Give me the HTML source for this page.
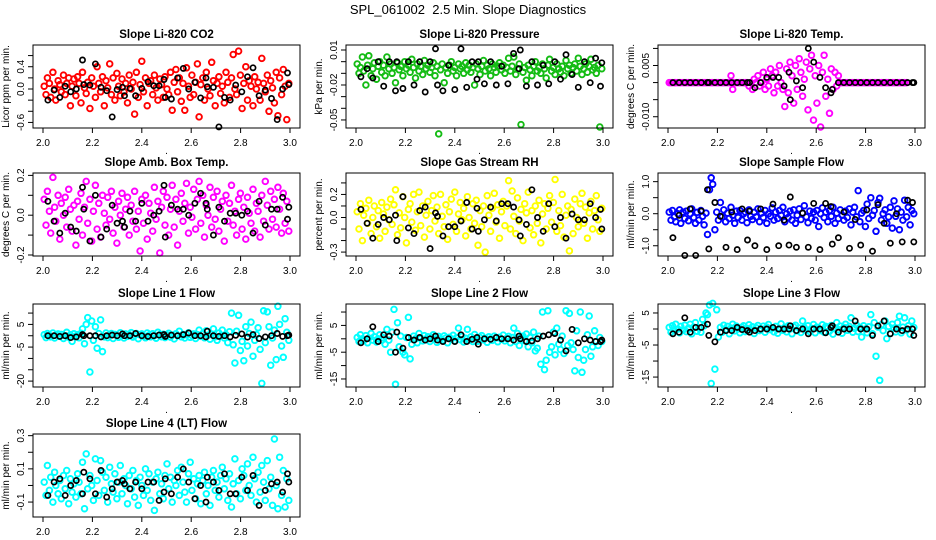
<!DOCTYPE html>
<html><head><meta charset="utf-8"><style>
html,body{margin:0;padding:0;background:#fff;}
svg{display:block;font-family:"Liberation Sans",Arial,sans-serif;}
</style></head><body>
<svg id="chart" width="936" height="540" viewBox="0 0 936 540" xmlns="http://www.w3.org/2000/svg">
<rect width="936" height="540" fill="#fff"/>
<text x="468" y="14" text-anchor="middle" font-size="13" style="white-space:pre">SPL_061002  2.5 Min. Slope Diagnostics</text>
</svg>
<script>
const xs=[2.005,2.012,2.018,2.026,2.031,2.040,2.047,2.052,2.061,2.068,2.074,2.083,2.090,2.096,2.104,2.111,2.118,2.125,2.133,2.140,2.146,2.154,2.160,2.168,2.175,2.181,2.190,2.197,2.204,2.212,2.219,2.226,2.233,2.241,2.248,2.255,2.262,2.270,2.277,2.284,2.291,2.299,2.306,2.313,2.320,2.328,2.335,2.342,2.349,2.357,2.364,2.371,2.378,2.386,2.393,2.400,2.407,2.415,2.422,2.429,2.436,2.444,2.451,2.458,2.465,2.473,2.480,2.487,2.494,2.502,2.509,2.516,2.523,2.531,2.538,2.545,2.552,2.560,2.567,2.574,2.581,2.589,2.596,2.603,2.610,2.618,2.625,2.632,2.639,2.647,2.654,2.661,2.668,2.676,2.683,2.690,2.697,2.705,2.712,2.719,2.726,2.734,2.741,2.748,2.755,2.763,2.770,2.777,2.784,2.792,2.799,2.806,2.813,2.821,2.828,2.835,2.842,2.850,2.857,2.864,2.871,2.879,2.886,2.893,2.900,2.908,2.915,2.922,2.929,2.937,2.944,2.951,2.958,2.966,2.973,2.980,2.987,2.995];
const bx=[2.02,2.045,2.068,2.09,2.112,2.135,2.16,2.165,2.19,2.212,2.235,2.258,2.28,2.3,2.322,2.33,2.352,2.375,2.4,2.425,2.448,2.47,2.49,2.495,2.52,2.545,2.568,2.59,2.615,2.638,2.66,2.665,2.69,2.712,2.735,2.758,2.78,2.805,2.828,2.85,2.875,2.9,2.925,2.948,2.97,2.99,2.995];
const co2=[0.05,-0.1,0.2,0.1,-0.15,0.3,0.0,-0.2,0.15,0.08,-0.05,0.25,-0.1,0.1,0.2,-0.3,0.05,0.18,-0.12,0.22,0.1,-0.25,0.3,0.02,-0.08,0.12,-0.35,0.2,0.05,-0.15,0.4,0.1,-0.05,0.22,-0.3,0.15,0.02,0.45,-0.1,0.2,-0.2,0.28,0.05,-0.12,0.18,-0.05,0.1,-0.25,0.25,0.0,0.12,-0.45,0.3,-0.15,0.08,0.5,-0.05,0.2,-0.3,0.1,0.15,-0.1,0.25,0.02,-0.2,0.18,0.08,-0.15,0.22,0.0,-0.1,0.3,-0.38,0.12,0.35,-0.05,0.2,-0.22,0.1,-0.38,0.38,0.05,-0.15,0.25,-0.1,0.12,0.45,-0.5,0.08,0.2,-0.2,0.3,0.0,-0.12,0.48,0.15,-0.3,0.1,0.22,-0.08,0.05,-0.25,0.3,0.12,-0.15,0.2,0.62,0.0,-0.1,0.68,0.25,-0.35,0.1,0.4,-0.2,0.15,0.05,-0.3,0.22,0.0,0.12,-0.2,0.55,0.1,-0.05,0.25,-0.4,0.15,0.02,-0.25,0.3,-0.48,0.2,-0.1,0.35,0.05,-0.55,0.1];
const co2Black=[-0.2,-0.02,-0.15,0.05,-0.05,0.0,0.52,0.08,0.07,0.45,0.03,-0.03,-0.5,-0.01,0.03,-0.12,0.01,-0.12,0.01,0.13,0.06,0.06,0.17,-0.15,-0.18,0.2,0.37,0.0,0.12,-0.16,0.2,0.04,0.03,-0.68,-0.15,-0.2,0.07,-0.05,0.22,0.38,-0.12,-0.02,-0.17,-0.55,0.0,0.29,0.08];
const pres=[-0.002,-0.01,-0.005,0.004,-0.008,-0.02,-0.003,0.005,-0.012,-0.006,-0.001,-0.015,-0.004,0.0,-0.009,-0.003,-0.012,0.004,-0.006,-0.002,-0.01,-0.005,-0.018,-0.001,-0.007,-0.004,-0.012,0.0,-0.006,-0.003,-0.009,0.002,-0.005,-0.014,-0.002,-0.008,-0.004,-0.011,0.001,-0.006,-0.003,-0.009,-0.005,-0.001,-0.012,-0.004,-0.062,-0.007,-0.002,-0.018,-0.005,-0.01,-0.003,0.0,-0.008,-0.005,-0.012,-0.002,-0.006,-0.004,-0.01,-0.001,-0.007,-0.003,-0.009,-0.005,-0.02,-0.002,-0.006,-0.011,-0.004,0.001,-0.008,-0.003,-0.006,-0.012,-0.002,-0.005,-0.009,-0.004,-0.001,-0.007,-0.003,-0.01,-0.005,0.003,-0.008,-0.004,0.004,-0.011,-0.006,-0.002,-0.054,-0.009,-0.005,-0.016,-0.003,-0.007,-0.012,-0.004,0.0,-0.008,-0.005,-0.01,-0.002,-0.006,-0.014,-0.003,0.002,-0.008,-0.005,-0.011,-0.002,-0.006,-0.009,-0.004,-0.012,0.001,-0.006,-0.003,-0.01,-0.005,-0.002,-0.008,0.003,-0.004,-0.011,-0.006,-0.002,-0.009,-0.004,0.002,-0.007,-0.005,-0.01,-0.003,-0.056,-0.006];
const presBlack=[-0.013,-0.006,-0.014,0.0,-0.021,0.0,-0.025,0.0,-0.023,0.0,-0.02,0.0,-0.026,0.0,0.011,-0.02,-0.025,-0.003,-0.024,0.011,-0.022,0.0,-0.015,0.0,-0.019,0.0,-0.02,-0.004,-0.019,0.007,-0.006,0.01,-0.021,0.0,-0.02,-0.003,-0.019,0.0,-0.015,0.006,-0.011,-0.022,0.0,-0.018,0.003,-0.021,-0.001];
const temp=[0,0,0,0,0,0,0,0,0,0,0,0,0,0,0,0,0,0,0,0,0,0,0,0,0,0,0,0,0,0,0,0,0,0,0,0.002,-0.002,0,0,0,0,0,0,0,0,-0.001,0.0,-0.002,0.001,0.0,0.002,-0.001,0.0,0.003,-0.002,0.001,-0.001,0.004,0.002,-0.003,0.003,-0.001,0.005,0.0,-0.002,-0.007,0.004,-0.003,0.006,0.002,-0.006,0.005,-0.002,0.007,0.003,-0.004,0.001,0.006,-0.008,0.004,0.008,-0.011,0.002,-0.006,0.005,-0.013,0.003,0.008,-0.004,0.001,-0.009,0.004,-0.002,0.003,-0.001,0.002,0,0,0,0,0,0,0,0,0,0,0,0,0,0,0,0,0,0,0,0,0,0,0,0,0,0,0,0,0,0,0,0,0,0,0,0,0,0];
const tempBlack=[0,0,0,0,0,0,0,0,0,0,0,0,0,0,0,0,-0.0015,0,0.0015,0.0015,0.0015,-0.001,0.003,-0.005,0.0005,-0.0015,0.01,0.006,0.0015,-0.0015,-0.003,-0.002,0,0,0,0,0,0,0,0,0,0,0,0,0,0,0];
const amb=[0.08,-0.05,0.12,0.02,-0.09,0.19,0.04,-0.03,0.1,-0.12,0.06,0.0,0.09,-0.06,0.13,0.03,-0.08,0.05,-0.15,0.07,-0.02,0.11,-0.1,0.04,0.17,-0.04,0.08,-0.13,0.02,0.15,-0.07,0.06,-0.11,0.1,0.01,-0.05,0.09,-0.02,0.12,-0.09,0.04,-0.14,0.07,0.0,0.11,-0.06,0.03,0.09,-0.1,0.05,-0.03,0.12,-0.07,0.02,-0.18,0.08,-0.04,0.1,-0.12,0.06,0.01,-0.08,0.14,-0.02,0.07,-0.19,0.04,0.12,-0.05,0.09,-0.1,0.03,0.15,-0.06,0.08,-0.15,0.02,0.11,-0.03,0.06,0.16,-0.09,0.04,-0.01,0.13,-0.07,0.08,0.17,-0.04,0.1,-0.11,0.05,0.0,0.14,-0.06,0.09,-0.02,0.12,-0.08,0.03,0.07,-0.13,0.1,-0.03,0.06,0.15,-0.05,0.02,-0.1,0.08,0.11,-0.07,0.04,-0.12,0.09,0.01,-0.04,0.13,-0.08,0.06,0.02,-0.11,0.1,-0.03,0.17,0.05,-0.07,0.12,-0.02,0.08,-0.06,0.14,0.03,-0.09,0.11,-0.04,0.07,-0.08];
const ambBlack=[0.07,-0.03,-0.09,0.01,-0.06,-0.08,0.14,0.03,-0.13,0.1,-0.11,-0.07,0.05,-0.04,-0.03,-0.06,0.02,-0.03,0.06,-0.03,0.0,0.02,0.15,-0.11,0.05,0.03,0.03,0.0,0.06,0.11,0.06,0.03,-0.1,0.04,-0.03,0.01,0.01,0.0,0.02,-0.09,0.07,-0.05,0.03,0.03,0.09,-0.02,0.04];
const rh=[0.05,-0.1,0.12,-0.2,0.02,0.08,-0.05,0.15,-0.14,0.0,0.1,-0.08,0.06,-0.18,0.13,0.03,-0.12,0.09,-0.02,0.16,-0.06,0.11,0.24,-0.15,0.04,-0.09,0.18,0.0,-0.22,0.07,0.12,-0.04,0.2,-0.11,0.05,0.22,-0.07,0.1,-0.17,0.02,0.14,-0.1,0.06,0.19,-0.03,0.09,-0.14,0.2,0.01,-0.08,0.11,-0.19,0.05,0.16,-0.06,0.22,-0.12,0.03,0.13,-0.02,0.08,-0.16,0.18,0.0,-0.1,0.12,-0.05,0.15,-0.24,0.06,-0.08,0.1,-0.3,0.19,0.02,-0.12,0.08,0.21,-0.04,0.11,-0.18,0.05,0.14,-0.07,0.1,0.32,-0.1,0.23,0.01,-0.14,0.17,-0.03,0.07,-0.2,0.12,0.04,0.22,-0.09,0.06,-0.15,0.1,-0.05,0.15,-0.22,0.03,0.12,-0.1,0.08,0.19,-0.04,0.13,0.33,-0.12,0.06,-0.07,0.2,-0.17,0.02,0.1,-0.29,0.07,-0.14,0.16,0.0,-0.08,0.12,0.21,-0.05,0.09,-0.18,0.04,0.14,-0.1,0.06,0.19,-0.02,-0.12,0.08];
const rhBlack=[0.07,-0.05,-0.18,-0.06,0.0,-0.02,0.02,-0.2,0.18,-0.09,-0.14,0.06,0.09,-0.27,0.04,0.01,-0.16,-0.08,-0.08,-0.03,0.13,-0.1,0.08,-0.12,-0.02,0.09,-0.03,0.12,0.12,0.09,-0.02,-0.16,-0.06,0.24,0.0,-0.12,0.12,-0.08,0.0,-0.18,0.03,-0.02,-0.02,0.12,0.0,0.07,-0.1];
const flow=[0.05,-0.2,0.1,-0.1,-0.25,0.0,0.12,-0.3,0.05,-0.15,0.08,-0.22,0.0,0.15,-0.12,-0.3,0.04,-0.2,0.1,-0.08,-0.35,0.02,-0.65,0.75,1.12,0.92,-0.5,0.05,-0.2,0.35,-0.1,0.12,-0.25,0.02,-0.15,0.2,-0.05,-0.3,0.08,-0.12,0.1,-0.2,0.0,0.05,-0.28,0.12,-0.08,-0.18,0.04,-0.1,0.15,-0.25,0.02,-0.12,0.1,-0.3,0.0,-0.08,0.18,-0.2,0.05,-0.15,0.1,-0.05,0.2,-0.25,0.0,-0.12,0.08,-0.2,0.12,-0.3,-0.05,0.15,-0.18,0.02,0.25,-0.1,-0.28,0.08,-0.15,0.05,-0.2,0.1,-0.4,0.0,0.18,-0.12,0.05,-0.25,0.1,-0.08,0.2,-0.3,0.02,-0.15,0.12,-0.05,-0.2,0.08,-0.12,0.15,-0.35,0.05,0.2,-0.1,0.72,-0.25,0.02,0.1,-0.4,0.3,-0.15,0.5,-0.05,0.1,-0.55,0.35,0.48,-0.2,0.0,0.12,-0.3,-0.1,0.2,-0.45,0.4,-0.08,0.15,-0.5,0.05,-0.2,0.42,-0.1,0.2,-0.35,0.1,0.0];
const flowBlack=[-0.75,-0.05,-1.3,0.15,-1.3,0.08,0.75,-1.1,0.35,-0.08,-1.05,0.05,-1.12,0.15,-0.82,0.08,-1.0,0.15,-1.12,0.3,-1.0,-0.2,-0.98,0.52,-1.05,0.02,-1.05,0.32,-1.12,0.32,0.22,-0.95,-0.75,0.05,-1.08,-0.18,-0.98,0.12,-1.17,0.28,-0.3,-0.92,0.0,-0.88,0.42,0.35,-0.88];
const line1=[0.5,-0.8,1.0,0.2,-0.5,1.2,-1.0,0.3,0.8,-0.3,0.6,-1.2,0.0,1.5,-0.6,0.4,-2.5,0.9,-0.2,0.5,-0.9,1.1,3.0,-3.5,5.0,8.0,-16.0,6.5,-2.0,4.0,-5.5,1.0,7.0,-7.0,-0.5,1.2,-0.8,0.3,1.0,-1.2,0.6,0.0,-0.7,1.3,0.2,-1.0,0.8,-0.3,0.5,1.4,-0.6,0.1,1.0,-1.3,0.4,0.8,-0.2,-0.9,1.2,0.3,-0.5,0.9,0.0,-1.1,1.5,0.5,-0.4,0.7,-0.8,0.2,1.1,-0.6,0.3,-1.4,0.9,0.0,2.0,-0.5,0.6,-1.0,0.4,1.3,-0.7,0.1,0.8,-1.2,0.5,2.5,-0.3,1.0,-0.9,2.2,0.2,-1.5,0.7,3.0,-0.4,-2.0,1.2,0.0,2.5,-1.0,0.5,-3.0,1.8,10.0,-4.0,-12.0,2.0,9.0,-6.5,-2.5,-11.0,4.0,-4.5,1.0,6.0,-9.0,-2.0,0.5,3.5,-6.0,-21.0,11.0,-3.0,10.5,4.0,-13.0,-1.0,2.5,-10.5,13.0,5.0,-4.5,-9.5,7.5,1.5,-2.0];
const line1Black=[0.0,0.0,-0.3,0.0,-0.8,-0.5,0.5,0.0,0.0,0.0,-0.5,0.0,0.3,0.0,0.8,0.0,0.0,1.0,0.0,-0.3,0.0,0.3,0.5,-0.3,0.3,0.0,0.5,1.2,0.0,0.0,-0.5,2.0,0.0,-0.3,0.0,-0.5,0.2,0.8,-0.6,0.5,-1.2,-0.5,0.0,1.0,-0.3,0.0,0.3];
const line2=[0.5,-1.0,1.5,0.0,-0.8,1.2,-1.5,0.3,2.0,-0.5,0.8,-1.2,0.0,1.5,-0.6,0.4,-2.0,3.5,-0.5,-5.0,2.5,11.0,-17.0,6.0,-3.0,1.0,-5.0,-6.0,0.5,8.0,-7.5,-2.0,1.0,0.0,-1.5,2.0,0.3,-0.8,1.2,-0.4,0.8,-1.0,0.5,1.5,-0.2,-1.3,0.9,0.0,-0.6,1.1,0.3,-1.5,0.6,-0.1,1.3,-0.8,0.4,4.0,-0.3,0.9,-1.2,0.2,3.5,-0.5,0.7,-1.0,1.6,0.0,-0.9,0.5,1.2,-0.4,0.2,-1.3,0.8,0.0,-0.6,1.0,0.3,-1.1,0.6,-0.2,1.4,-0.8,0.2,0.9,-1.5,0.5,4.0,-1.0,2.0,-2.5,0.3,1.0,-0.7,1.8,-3.0,0.5,-1.5,2.5,-4.5,-3.5,1.0,-9.5,10.0,-11.5,-8.0,10.5,-5.0,-3.0,2.5,-6.0,4.0,-2.0,-4.0,1.0,-5.5,10.5,-2.5,9.5,-1.5,-4.0,-12.0,3.0,-7.0,10.0,-12.5,-8.0,-4.0,1.5,8.5,-6.5,-3.0,3.0,-1.0,-2.5,0.5,-1.0];
const line2Black=[-1.5,0.0,4.5,-1.0,1.5,1.0,-5.0,2.5,-3.5,0.5,-0.5,0.5,-0.5,0.0,1.0,-0.5,-1.0,0.0,-1.0,1.5,-1.0,-0.2,0.5,-2.0,0.0,-0.2,0.5,0.0,0.0,-0.5,1.0,0.0,-1.0,-0.8,0.0,1.0,1.5,2.0,-0.5,-4.5,3.5,-1.5,0.0,-0.5,-1.0,-1.0,-0.5];
const line3=[0.5,-1.0,1.0,-0.5,1.5,0.0,-1.2,0.8,-0.3,1.2,-0.8,0.3,1.5,-1.5,0.6,2.0,-0.7,0.4,-1.0,3.0,1.0,5.0,4.5,7.5,-17.0,8.0,-12.5,6.0,-2.5,0.5,-1.0,1.2,-0.4,0.8,-1.5,0.3,1.5,-0.6,0.9,0.0,-1.2,0.5,1.0,-0.8,0.2,1.3,-0.3,0.7,-1.4,0.4,1.1,-0.5,0.0,0.9,-1.0,0.6,1.4,-0.2,0.3,-0.9,0.8,-1.3,0.2,1.6,-0.4,0.5,-0.9,1.0,0.0,-1.5,0.7,1.2,-0.6,0.3,-1.1,2.5,0.4,-0.3,1.0,-0.8,0.2,1.4,-1.2,0.6,0.0,-0.5,1.3,-1.0,0.8,0.3,-0.7,1.1,-1.6,0.4,2.0,-0.2,0.9,-1.3,0.5,1.5,-0.4,0.8,3.5,-1.0,0.2,1.2,-0.8,0.5,-2.5,1.0,0.0,-1.2,0.7,4.5,-1.5,2.0,-8.5,0.6,-16.0,1.3,-0.5,2.5,-3.0,0.8,-1.4,1.5,0.3,-0.9,2.0,4.0,-1.2,0.6,3.5,-0.3,1.0,-1.6,2.5,0.5];
const line3Black=[-1.5,-1.0,3.5,-1.0,0.5,0.5,1.5,-2.0,-4.0,-1.0,-0.5,-0.5,0.5,-0.2,-0.5,-1.0,-0.5,0.0,0.0,0.5,0.0,0.0,0.0,1.0,-0.5,0.0,-1.5,0.0,0.0,-1.2,0.5,1.0,-1.0,0.0,0.0,2.5,0.0,0.0,-2.0,1.0,2.5,-1.5,0.0,-0.5,0.0,0.0,-2.0];
const line4=[0.02,-0.06,0.12,-0.03,0.05,-0.1,0.08,0.0,-0.05,0.03,-0.08,0.06,-0.02,0.09,-0.11,0.04,-0.04,0.01,-0.07,0.07,0.02,-0.05,0.14,-0.14,0.19,-0.02,0.06,0.0,-0.09,0.16,0.03,-0.06,0.15,0.08,-0.03,0.05,-0.1,0.11,0.01,-0.04,0.07,-0.08,0.02,0.12,-0.05,0.04,0.0,-0.11,0.06,-0.02,0.09,-0.07,0.03,-0.12,0.05,0.0,-0.06,0.1,-0.03,0.07,-0.09,0.02,-0.15,0.04,0.08,-0.05,0.01,-0.08,0.06,0.13,-0.02,0.05,-0.1,0.03,0.0,0.09,-0.06,0.11,0.02,-0.04,-0.1,0.07,0.14,-0.03,0.04,-0.08,0.01,0.06,-0.11,0.03,0.08,-0.05,0.0,-0.12,0.05,0.09,-0.03,0.02,-0.07,0.06,0.11,-0.02,0.04,-0.09,0.07,-0.13,0.01,0.16,-0.05,0.03,-0.08,0.1,0.06,-0.03,0.13,0.0,-0.06,0.17,0.04,-0.1,0.08,-0.04,0.12,0.02,-0.09,0.15,-0.02,0.05,-0.12,0.28,0.0,-0.14,0.17,-0.06,0.09,-0.13,0.04,-0.09];
const line4Black=[-0.06,0.02,0.04,-0.06,0.0,0.03,-0.05,0.08,0.04,-0.05,0.09,-0.07,-0.02,0.02,0.03,0.01,-0.02,0.02,-0.02,0.02,0.02,-0.09,-0.04,0.04,-0.05,0.05,0.1,0.02,-0.08,0.0,-0.1,0.05,0.02,-0.03,0.07,-0.05,-0.05,0.05,-0.03,0.06,-0.12,-0.03,0.01,0.02,-0.04,0.07,0.02];
const xTicks=[2.0,2.2,2.4,2.6,2.8,3.0];
const xTickLabels=["2.0","2.2","2.4","2.6","2.8","3.0"];

const NS="http://www.w3.org/2000/svg";
const svg=document.getElementById('chart');
function mk(tag,attrs,parent){const e=document.createElementNS(NS,tag);for(const k in attrs)e.setAttribute(k,attrs[k]);(parent||svg).appendChild(e);return e;}

const panels=[
 {name:'co2',title:'Slope Li-820 CO2',ylab:'Licor ppm per min.',col:0,row:0,ylim:[-0.70,0.79],ticks:[-0.6,-0.4,-0.2,0,0.2,0.4,0.6],labels:{'-0.6':'-0.6','0':'0.0','0.4':'0.4'},color:'#ff0000',y:co2,yb:co2Black},
 {name:'pressure',title:'Slope Li-820 Pressure',ylab:'kPa per min.',col:1,row:0,ylim:[-0.0569,0.0143],ticks:[-0.05,-0.04,-0.03,-0.02,-0.01,0,0.01],labels:{'-0.05':'-0.05','-0.02':'-0.02','0.01':'0.01'},color:'#14bc14',y:pres,yb:presBlack},
 {name:'temp',title:'Slope Li-820 Temp.',ylab:'degrees C per min.',col:2,row:0,ylim:[-0.0133,0.011],ticks:[-0.01,-0.005,0,0.005,0.01],labels:{'-0.01':'-0.010','0.005':'0.005'},color:'#ff00ff',y:temp,yb:tempBlack},
 {name:'amb-box',title:'Slope Amb. Box Temp.',ylab:'degrees C per min.',col:0,row:1,ylim:[-0.205,0.212],ticks:[-0.2,-0.1,0,0.1,0.2],labels:{'-0.2':'-0.2','0':'0.0','0.2':'0.2'},color:'#ff00ff',y:amb,yb:ambBlack},
 {name:'gas-rh',title:'Slope Gas Stream RH',ylab:'percent per min.',col:1,row:1,ylim:[-0.334,0.386],ticks:[-0.3,-0.2,-0.1,0,0.1,0.2,0.3],labels:{'-0.3':'-0.3','0':'0.0','0.2':'0.2'},color:'#ffff00',y:rh,yb:rhBlack},
 {name:'sample-flow',title:'Slope Sample Flow',ylab:'ml/min per min.',col:2,row:1,ylim:[-1.32,1.27],ticks:[-1,-0.5,0,0.5,1],labels:{'-1':'-1.0','0':'0.0','1':'1.0'},color:'#0000ff',y:flow,yb:flowBlack},
 {name:'line1',title:'Slope Line 1 Flow',ylab:'ml/min per min.',col:0,row:2,ylim:[-22.6,14.0],ticks:[-20,-15,-10,-5,0,5,10],labels:{'-20':'-20','-5':'-5','5':'5'},color:'#00ffff',y:line1,yb:line1Black},
 {name:'line2',title:'Slope Line 2 Flow',ylab:'ml/min per min.',col:1,row:2,ylim:[-18.0,13.0],ticks:[-15,-10,-5,0,5,10],labels:{'-15':'-15','-5':'-5','5':'5'},color:'#00ffff',y:line2,yb:line2Black},
 {name:'line3',title:'Slope Line 3 Flow',ylab:'ml/min per min.',col:2,row:2,ylim:[-18.1,7.8],ticks:[-15,-10,-5,0,5],labels:{'-15':'-15','-5':'-5','5':'5'},color:'#00ffff',y:line3,yb:line3Black},
 {name:'line4',title:'Slope Line 4 (LT) Flow',ylab:'ml/min per min.',col:0,row:3,ylim:[-0.19,0.31],ticks:[-0.1,0,0.1,0.2,0.3],labels:{'-0.1':'-0.1','0.1':'0.1','0.3':'0.3'},color:'#00ffff',y:line4,yb:line4Black}
];
const colLeft=[33,346,658], rowTop=[45,173,304,434], W=267, H=83;

panels.forEach(p=>{
 const L=colLeft[p.col], T=rowTop[p.row], B=T+H, R=L+W;
 const g=mk('g',{});
 
 
 const sx=v=>L+10+(v-2.0)*(W-20);
 const sy=v=>B-(v-p.ylim[0])/(p.ylim[1]-p.ylim[0])*H;
 const t=mk('text',{x:L+W/2,y:T-7,'text-anchor':'middle','font-size':'11.5','font-weight':'bold'},g);
 t.textContent=p.title;
 
 
 const pts=mk('g',{fill:'none',stroke:p.color,'stroke-width':'1.9'},g);
 
 
 p.y.forEach((v,i)=>{
  const c=mk('circle',{cx:sx(xs[i]).toFixed(1),cy:sy(v).toFixed(1),r:2.8},pts);
  
  
 });
 const bp=mk('g',{fill:'none',stroke:'#000','stroke-width':'1.7'},g);
 
 
 p.yb.forEach((v,i)=>{
  const c=mk('circle',{cx:sx(bx[i]).toFixed(1),cy:sy(v).toFixed(1),r:2.6},bp);
  
  
 });
 const box=mk('rect',{x:L,y:T,width:W,height:H,fill:'none',stroke:'#000','stroke-width':'1'},g);
 
 
 const xa=mk('g',{},g);
 
 
 xTicks.forEach((v,i)=>{
  mk('line',{x1:sx(v),x2:sx(v),y1:B,y2:B+5,stroke:'#000'},xa);
  const tl=mk('text',{x:sx(v),y:B+18,'text-anchor':'middle','font-size':'10'},xa);
  tl.textContent=xTickLabels[i];
  
  
 });
 const dot=mk('text',{x:L+W/2,y:B+26,'text-anchor':'middle','font-size':'10'},xa);
 dot.textContent='.';
 
 
 const ya=mk('g',{},g);
 
 
 p.ticks.forEach(v=>{
  const y=sy(v);
  mk('line',{x1:L-5,x2:L,y1:y,y2:y,stroke:'#000'},ya);
  const lab=p.labels[String(v)];
  if(lab){
   const tl=mk('text',{x:L-9,y:y,'text-anchor':'middle','font-size':'10',transform:`rotate(-90 ${L-9} ${y})`},ya);
   tl.textContent=lab;
   
   
  }
 });
 const yl=mk('text',{x:L-24,y:T+H/2,'text-anchor':'middle','font-size':'10',transform:`rotate(-90 ${L-24} ${T+H/2})`},ya);
 yl.textContent=p.ylab;
 
 
});
</script>
</body></html>
